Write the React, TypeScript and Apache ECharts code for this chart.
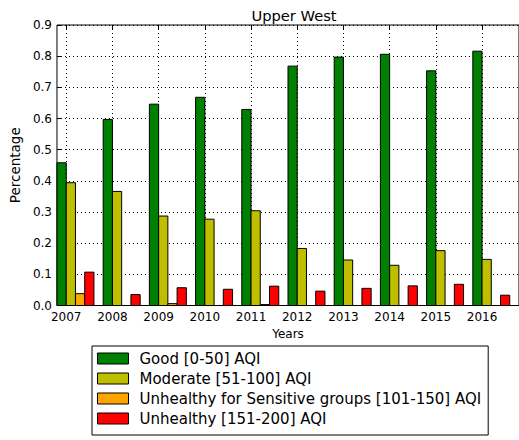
import React, { useEffect, useRef } from "react";
import * as echarts from "echarts";

const years = [2007, 2008, 2009, 2010, 2011, 2012, 2013, 2014, 2015, 2016];
const good = [0.458, 0.597, 0.646, 0.668, 0.629, 0.768, 0.797, 0.806, 0.753, 0.816];
const moderate = [0.394, 0.366, 0.287, 0.277, 0.304, 0.183, 0.146, 0.129, 0.176, 0.148];
const usg = [0.038, 0.0, 0.006, 0.0, 0.003, 0.0, 0.0, 0.0, 0.0, 0.0];
const unhealthy = [0.107, 0.035, 0.057, 0.052, 0.062, 0.046, 0.055, 0.063, 0.068, 0.033];

const seriesDefs = [
  { name: "Good [0-50] AQI", values: good, color: "#008000", offset: -0.2 },
  { name: "Moderate [51-100] AQI", values: moderate, color: "#bfbf00", offset: 0 },
  { name: "Unhealthy for Sensitive groups [101-150] AQI", values: usg, color: "#ffa500", offset: 0.2 },
  { name: "Unhealthy [151-200] AQI", values: unhealthy, color: "#ff0000", offset: 0.4 },
];

const FONT = "DejaVu Sans";

export default function App() {
  const ref = useRef<HTMLDivElement>(null);
  useEffect(() => {
    const chart = echarts.init(ref.current!, null, { renderer: "svg" });
    const barW = 0.2;
    const series = seriesDefs.map((s) => ({
      type: "custom",
      name: s.name,
      itemStyle: { color: s.color, borderColor: "#000", borderWidth: 1 },
      data: years.map((y, i) => [y, s.values[i]]),
      renderItem: (params: any, api: any) => {
        const x = api.value(0);
        const v = api.value(1);
        const p0 = api.coord([x + s.offset, 0]);
        const p1 = api.coord([x + s.offset + barW, v]);
        return {
          type: "rect",
          shape: { x: p0[0], y: p1[1], width: p1[0] - p0[0], height: p0[1] - p1[1] },
          style: { fill: s.color, stroke: "#000", lineWidth: 1 },
        };
      },
    }));
    const xCommon = {
      type: "value",
      min: 2006.8,
      max: 2016.8,
    };
    chart.setOption({
      animation: false,
      textStyle: { fontFamily: FONT, color: "#000" },
      title: {
        text: "Upper West",
        left: 289,
        textAlign: "center",
        top: 3,
        textStyle: { fontFamily: FONT, fontSize: 14.7, fontWeight: "normal", color: "#000" },
      },
      grid: {
        left: 55,
        top: 25,
        width: 468,
        height: 280.5,
        show: true,
        borderColor: "#000",
        borderWidth: 1,
        backgroundColor: "transparent",
      },
      legend: {
        orient: "vertical",
        left: 92,
        top: 346,
        height: 200,
        padding: [5, 7, 9, 5],
        itemGap: 5,
        itemWidth: 31,
        itemHeight: 11,
        borderColor: "#000",
        borderWidth: 1,
        borderRadius: 0,
        textStyle: { fontFamily: FONT, fontSize: 15, color: "#000", padding: [0, 0, 0, 6] },
        data: seriesDefs.map((s) => ({
          name: s.name,
          icon: "rect",
          itemStyle: { color: s.color, borderColor: "#000", borderWidth: 1 },
        })),
      },
      xAxis: [
        {
          ...xCommon,
          position: "bottom",
          name: "Years",
          nameLocation: "middle",
          nameGap: 22,
          nameTextStyle: { fontFamily: FONT, fontSize: 12, color: "#000" },
          axisLine: { show: false },
          axisTick: { show: true, inside: true, length: 4, customValues: years, lineStyle: { color: "#000" } },
          axisLabel: {
            customValues: years,
            fontFamily: FONT,
            fontSize: 12,
            color: "#000",
            margin: 5,
            formatter: (v: number) => String(Math.round(v)),
          },
          splitLine: { show: true, lineStyle: { color: "#000", type: [1, 3], width: 1 } },
        },
        {
          ...xCommon,
          position: "top",
          axisLine: { show: false },
          axisTick: { show: true, inside: true, length: 4, customValues: years, lineStyle: { color: "#000" } },
          axisLabel: { show: false },
          splitLine: { show: false },
        },
      ],
      yAxis: {
        type: "value",
        min: 0,
        max: 0.9,
        interval: 0.1,
        name: "Percentage",
        nameLocation: "middle",
        nameGap: 30,
        nameTextStyle: { fontFamily: FONT, fontSize: 13.5, color: "#000" },
        axisLine: { show: false },
        axisTick: { show: true, inside: true, length: 4, lineStyle: { color: "#000" } },
        axisLabel: {
          fontFamily: FONT,
          fontSize: 12,
          color: "#000",
          margin: 5,
          formatter: (v: number) => v.toFixed(1),
        },
        splitLine: { show: true, lineStyle: { color: "#000", type: [1, 3], width: 1 } },
      },
      series,
    });
    return () => chart.dispose();
  }, []);
  return (
    <div
      ref={ref}
      style={{ position: "fixed", left: 0, top: 0, width: 519, height: 440, background: "#fff" }}
    />
  );
}
